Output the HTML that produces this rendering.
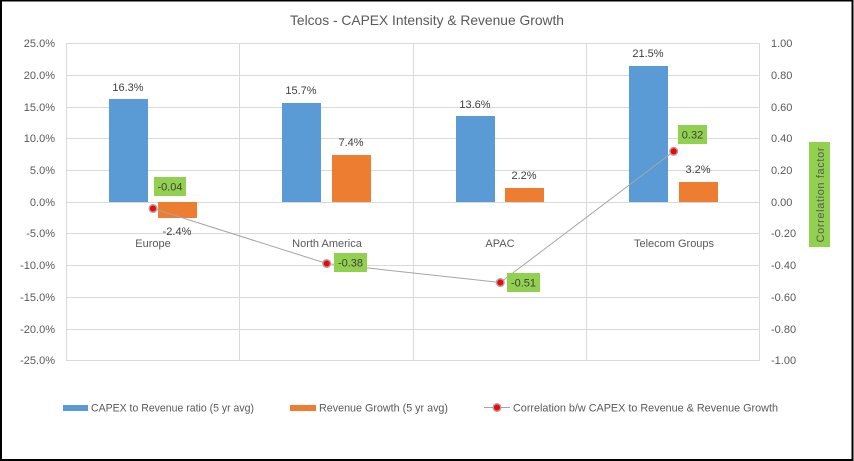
<!DOCTYPE html>
<html><head><meta charset="utf-8"><style>
html,body{margin:0;padding:0;background:#fff;}
svg{display:block;}
text{font-family:"Liberation Sans",sans-serif;}
</style></head><body>
<svg width="854" height="461" viewBox="0 0 854 461" xmlns="http://www.w3.org/2000/svg">
<rect x="0" y="0" width="854" height="461" fill="#fff"/>
<rect x="1" y="0.5" width="851.5" height="459.5" fill="none" stroke="#000" stroke-width="2"/>
<text x="427" y="25" font-size="14" fill="#595959" text-anchor="middle" textLength="274" lengthAdjust="spacingAndGlyphs">Telcos - CAPEX Intensity &amp; Revenue Growth</text>
<!-- gridlines -->
<g stroke="#d9d9d9" stroke-width="1">
<line x1="66.5" y1="43.5" x2="760" y2="43.5"/>
<line x1="66.5" y1="75.5" x2="760" y2="75.5"/>
<line x1="66.5" y1="107.5" x2="760" y2="107.5"/>
<line x1="66.5" y1="138.5" x2="760" y2="138.5"/>
<line x1="66.5" y1="170.5" x2="760" y2="170.5"/>
<line x1="66.5" y1="202.5" x2="760" y2="202.5"/>
<line x1="66.5" y1="233.5" x2="760" y2="233.5"/>
<line x1="66.5" y1="265.5" x2="760" y2="265.5"/>
<line x1="66.5" y1="297.5" x2="760" y2="297.5"/>
<line x1="66.5" y1="329.5" x2="760" y2="329.5"/>
<line x1="66.5" y1="360.5" x2="760" y2="360.5"/>
<line x1="66.5" y1="43" x2="66.5" y2="361"/>
<line x1="239.5" y1="43" x2="239.5" y2="361"/>
<line x1="413.5" y1="43" x2="413.5" y2="361"/>
<line x1="586.5" y1="43" x2="586.5" y2="361"/>
<line x1="759.5" y1="43" x2="759.5" y2="361"/>
</g>
<!-- left axis labels -->
<g font-size="11" fill="#595959" text-anchor="end">
<text x="55" y="47">25.0%</text>
<text x="55" y="79">20.0%</text>
<text x="55" y="111">15.0%</text>
<text x="55" y="142">10.0%</text>
<text x="55" y="174">5.0%</text>
<text x="55" y="206">0.0%</text>
<text x="55" y="237">-5.0%</text>
<text x="55" y="269">-10.0%</text>
<text x="55" y="301">-15.0%</text>
<text x="55" y="333">-20.0%</text>
<text x="55" y="364">-25.0%</text>
</g>
<!-- right axis labels -->
<g font-size="11" fill="#595959" text-anchor="start">
<text x="771" y="47">1.00</text>
<text x="771" y="79">0.80</text>
<text x="771" y="111">0.60</text>
<text x="771" y="142">0.40</text>
<text x="771" y="174">0.20</text>
<text x="771" y="206">0.00</text>
<text x="771" y="237">-0.20</text>
<text x="771" y="269">-0.40</text>
<text x="771" y="301">-0.60</text>
<text x="771" y="333">-0.80</text>
<text x="771" y="364">-1.00</text>
</g>
<!-- right axis title -->
<rect x="809" y="142" width="21" height="105" fill="#92d050"/>
<text transform="translate(824,195) rotate(-90)" font-size="11" fill="#595959" text-anchor="middle" textLength="95" lengthAdjust="spacing">Correlation factor</text>
<!-- bars -->
<g>
<rect x="109" y="99" width="39" height="103" fill="#5b9bd5"/>
<rect x="158" y="202" width="39" height="16" fill="#ed7d31"/>
<rect x="282" y="103" width="39" height="99" fill="#5b9bd5"/>
<rect x="332" y="155" width="39" height="47" fill="#ed7d31"/>
<rect x="456" y="116" width="39" height="86" fill="#5b9bd5"/>
<rect x="505" y="188" width="39" height="14" fill="#ed7d31"/>
<rect x="629" y="66" width="39" height="136" fill="#5b9bd5"/>
<rect x="679" y="182" width="39" height="20" fill="#ed7d31"/>
</g>
<!-- bar labels -->
<g font-size="11" fill="#404040" text-anchor="middle">
<text x="128" y="91">16.3%</text>
<text x="177" y="235">-2.4%</text>
<text x="301" y="94">15.7%</text>
<text x="351" y="146">7.4%</text>
<text x="475" y="108">13.6%</text>
<text x="524" y="179">2.2%</text>
<text x="648" y="57">21.5%</text>
<text x="698" y="173">3.2%</text>
</g>
<!-- category labels -->
<g font-size="11" fill="#595959" text-anchor="middle">
<text x="153" y="247">Europe</text>
<text x="327" y="247">North America</text>
<text x="500" y="247">APAC</text>
<text x="674" y="247">Telecom Groups</text>
</g>
<!-- correlation line -->
<polyline points="153,208.5 326.7,263.5 500.3,282.5 673.7,151.3" fill="none" stroke="#a5a5a5" stroke-width="1"/>
<g>
<circle cx="153" cy="208.5" r="3.8" fill="#ff0000" stroke="#a5a5a5" stroke-width="1.5"/>
<circle cx="326.7" cy="263.5" r="3.8" fill="#ff0000" stroke="#a5a5a5" stroke-width="1.5"/>
<circle cx="500.3" cy="282.5" r="3.8" fill="#ff0000" stroke="#a5a5a5" stroke-width="1.5"/>
<circle cx="673.7" cy="151.3" r="3.8" fill="#ff0000" stroke="#a5a5a5" stroke-width="1.5"/>
</g>
<!-- green labels -->
<rect x="154" y="177" width="32" height="19" fill="#92d050"/>
<rect x="334" y="253" width="33" height="19" fill="#92d050"/>
<rect x="507" y="273" width="33" height="19" fill="#92d050"/>
<rect x="678" y="125" width="29" height="19" fill="#92d050"/>
<g font-size="11" fill="#404040" text-anchor="middle">
<text x="170" y="190.5">-0.04</text>
<text x="350.5" y="266.5">-0.38</text>
<text x="523.5" y="286.5">-0.51</text>
<text x="692.5" y="138.5">0.32</text>
</g>
<!-- legend -->
<rect x="63" y="405" width="25" height="6" fill="#5b9bd5"/>
<text x="91" y="411.5" font-size="11" fill="#595959" textLength="163" lengthAdjust="spacingAndGlyphs">CAPEX to Revenue ratio (5 yr avg)</text>
<rect x="290" y="405" width="26" height="6" fill="#ed7d31"/>
<text x="319" y="411.5" font-size="11" fill="#595959" textLength="129" lengthAdjust="spacingAndGlyphs">Revenue Growth (5 yr avg)</text>
<line x1="484" y1="407.5" x2="510" y2="407.5" stroke="#a5a5a5" stroke-width="1"/>
<circle cx="497" cy="407.5" r="3.8" fill="#ff0000" stroke="#a5a5a5" stroke-width="1.5"/>
<text x="513" y="411.5" font-size="11" fill="#595959" textLength="265" lengthAdjust="spacingAndGlyphs">Correlation b/w CAPEX to Revenue &amp; Revenue Growth</text>
</svg>
</body></html>
